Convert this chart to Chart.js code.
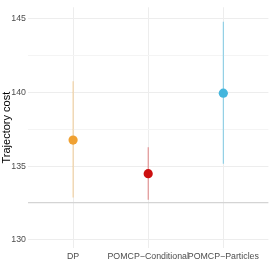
<!DOCTYPE html>
<html><head><meta charset="utf-8">
<script src="https://cdn.jsdelivr.net/npm/chart.js@4/dist/chart.umd.min.js"></script>
<style>html,body{margin:0;padding:0;background:#fff;}canvas{display:block;}</style>
</head><body>
<canvas id="c" width="273" height="273"></canvas>
<script>
const categories = ["DP", "POMCP\u2212Conditional", "POMCP\u2212Particles"];
const means = [136.77, 134.49, 139.95];
const lows = [132.88, 132.72, 135.16];
const highs = [140.77, 136.28, 144.80];
const yTicks = [130, 132.5, 135, 137.5, 140, 142.5, 145];
const refLine = 132.5;
const pointColors = ["#F0A132", "#CC0F0F", "#45B6DD"];
const lineColors = ["rgba(240,161,50,0.45)", "rgba(204,15,15,0.45)", "rgba(69,182,221,0.6)"];

const datasets = [];
categories.forEach((c, i) => {
  datasets.push({
    data: [{x: i, y: lows[i]}, {x: i, y: highs[i]}],
    showLine: true, borderColor: lineColors[i], borderWidth: 1.1,
    pointRadius: 0
  });
});
datasets.push({
  data: means.map((m, i) => ({x: i, y: m})),
  showLine: false, pointRadius: 4.6, pointBorderWidth: 0,
  pointBackgroundColor: pointColors, pointBorderColor: pointColors
});

new Chart(document.getElementById('c'), {
  type: 'scatter',
  data: {datasets},
  options: {
    responsive: false, animation: false,
    layout: {padding: {left: 0, right: 2, top: 2, bottom: 0}},
    plugins: {legend: {display: false}, tooltip: {enabled: false}},
    scales: {
      x: {
        type: 'linear', min: -0.6, max: 2.6,
        afterBuildTicks: s => { s.ticks = categories.map((c, i) => ({value: i})); },
        afterFit: s => { s.height = 25; },
        ticks: {callback: v => categories[v] ?? '', color: '#4d4d4d', font: {family: 'Liberation Sans', size: 8.8}, padding: 3, maxRotation: 0, autoSkip: false},
        grid: {color: '#EDEDED', lineWidth: 1, drawTicks: false},
        border: {display: false}
      },
      y: {
        min: 129.45, max: 145.78,
        afterBuildTicks: s => { s.ticks = yTicks.map(v => ({value: v})); },
        afterFit: s => { s.width = 28; },
        ticks: {callback: v => (v % 5 === 0 ? String(v) : ''), color: '#4d4d4d', font: {family: 'Liberation Sans', size: 8.8}, padding: 2, autoSkip: false},
        grid: {
          drawTicks: false,
          color: ctx => (ctx.tick && ctx.tick.value === refLine) ? '#D4D4D4' : (ctx.tick && ctx.tick.value % 5 === 0 ? '#EDEDED' : '#F4F4F4'),
          lineWidth: ctx => (ctx.tick && ctx.tick.value === refLine) ? 1.2 : 1
        },
        border: {display: false},
        title: {display: true, text: 'Trajectory cost', color: '#000', font: {family: 'Liberation Sans', size: 11}, padding: {top: 0, bottom: 2}}
      }
    }
  }
});
</script>
</body></html>
